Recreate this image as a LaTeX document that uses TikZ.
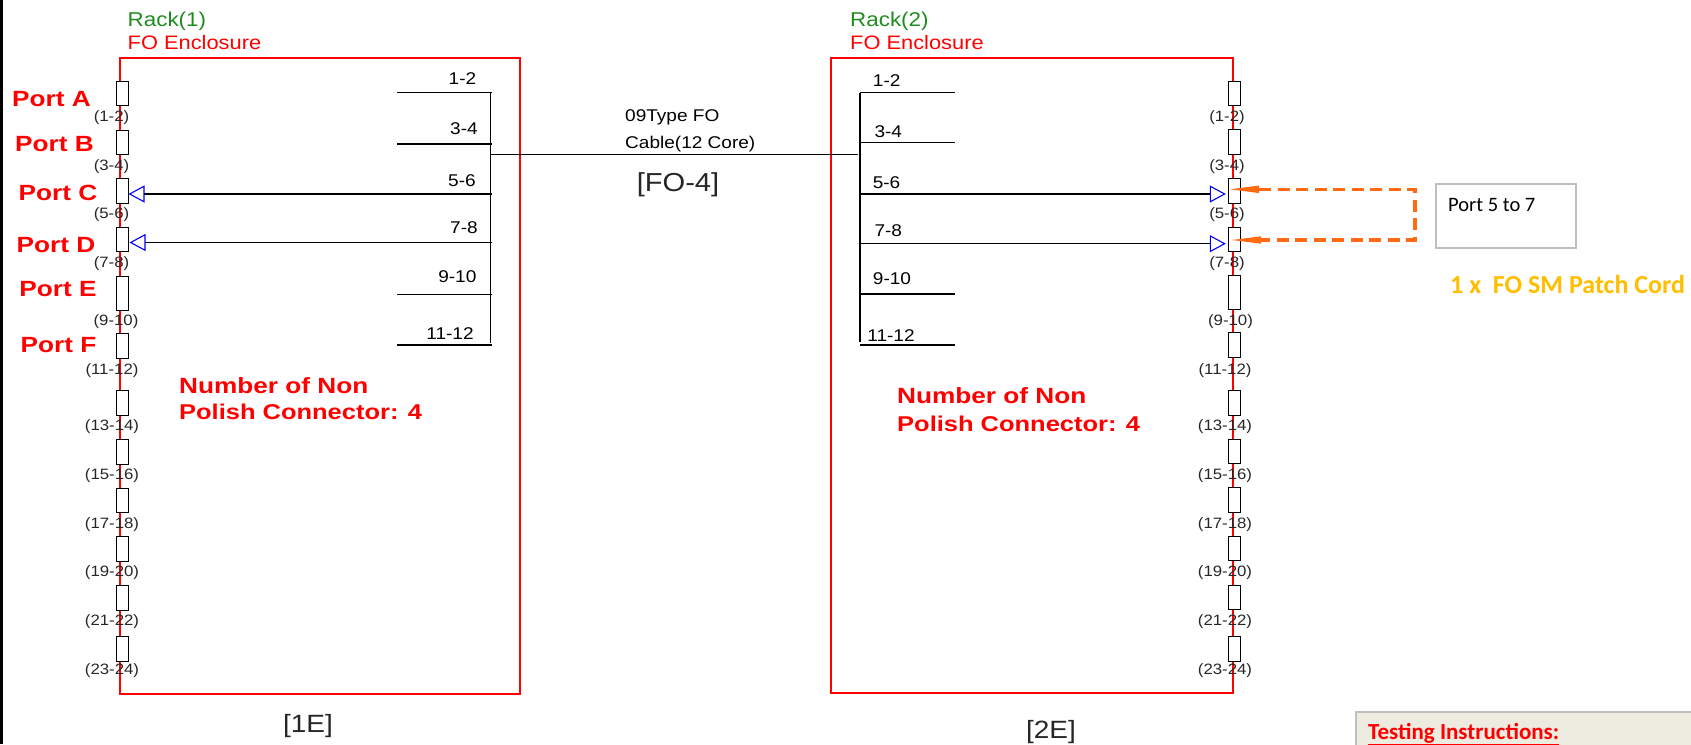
\documentclass[tikz,border=0pt]{standalone}
\usepackage{fontspec}
\usepackage{xcolor}
\usepackage{tikz}
\usetikzlibrary{arrows.meta}
\setmainfont{Liberation Sans}
\newfontfamily\gothic[FakeStretch=1.12]{Liberation Sans}
\newfontfamily\portfont[FakeStretch=1.19]{Liberation Sans}
\newfontfamily\calibri{Carlito}
\definecolor{fogreen}{HTML}{1E8C1E}
\definecolor{patchorange}{HTML}{FF6A13}
\definecolor{cordyellow}{HTML}{FFBE00}
\definecolor{notegrey}{HTML}{BFBFBF}
\definecolor{notefill}{HTML}{EEEBE0}
\newcommand{\fsize}[1]{\fontsize{#1}{#1}\selectfont}

\begin{document}
\begin{tikzpicture}[x=1pt,y=-1pt,
	enclosure/.style={draw=red,line width=1.05pt,minimum width=#1,minimum height=636pt,anchor=north west,inner sep=0pt,outer sep=0pt},
	portbox/.style={draw=black,line width=1pt,fill=white,minimum width=12pt,minimum height=#1,inner sep=0pt,outer sep=0pt},
	tiny lbl/.style={font=\gothic\fsize{15},text=black!85,inner sep=0pt},
	core lbl/.style={font=\gothic\fsize{17},text=black,inner sep=0pt},
	rack lbl/.style={font=\gothic\fsize{20},text=fogreen,inner sep=0pt,anchor=west},
	encl lbl/.style={font=\gothic\fsize{19.5},text=red,inner sep=0pt,anchor=west},
	port lbl/.style={font=\portfont\bfseries\fsize{22},text=red,inner sep=0pt},
	code lbl/.style={font=\gothic\fsize{25},text=black!85,inner sep=0pt},
	wire/.style={draw=black,line width=1.2pt},
	sigline/.style={draw=black,line width=1.1pt,-{Triangle[open,blue,length=16pt,width=17pt,line width=1.1pt]}},
	patch/.style={draw=patchorange,line width=3.1pt,dash pattern=on 12pt off 6.5pt,
		{Triangle[length=29pt,width=7.5pt,fill=patchorange,line width=0pt]}-{Triangle[length=29pt,width=7.5pt,fill=patchorange,line width=0pt]}}]

	\useasboundingbox (0,0) rectangle (1691,744);
	\draw[line width=2.6pt] (1.2,0) -- (1.2,744);

	\node at (120,58) [enclosure=400pt] (rack1) {};
	\node at (831,58) [enclosure=402pt,minimum height=635pt] (rack2) {};

	\node at (127.5,21) [rack lbl] (rack1name) {Rack(1)};
	\node at (127.5,43) [encl lbl] (rack1encl) {FO Enclosure};
	\node at (850,21) [rack lbl] (rack2name) {Rack(2)};
	\node at (850,43) [encl lbl] (rack2encl) {FO Enclosure};

	% patch panel, left rack and right rack
	\foreach \n/\y/\h in {1/93.7/24.5,2/142.5/24.5,3/191.2/24.5,4/239.7/24.5,5/293/34,6/345.5/25,
		7/403.2/24.5,8/452/24.5,9/500.5/24.5,10/549/24.5,11/598/24.5,12/649.3/25}{
		\node at (122.5,\y) [portbox=\h pt] (lbox\n) {};
		\node at (1234.8,\y-0.3) [portbox=\h pt] (rbox\n) {};
	}
	\foreach \n/\y/\txt/\lx/\rx in {1/118/(1-2)/111.5/1227,2/167/(3-4)/111.5/1227,3/215/(5-6)/111.5/1227,
		4/264/(7-8)/111.5/1227,5/321.5/(9-10)/116/1230.5,6/370.5/(11-12)/112/1225,7/427/(13-14)/112/1225,
		8/476/(15-16)/112/1225,9/525/(17-18)/112/1225,10/573/(19-20)/112/1225,11/622/(21-22)/112/1225,12/671/(23-24)/112/1225}{
		\node at (\lx,\y) [tiny lbl] (ltag\n) {\txt};
		\node at (\rx,\y) [tiny lbl] (rtag\n) {\txt};
	}

	\node at (51.5,99) [port lbl] (porta) {Port A};
	\node at (54.5,144) [port lbl] (portb) {Port B};
	\node at (58,192.5) [port lbl] (portc) {Port C};
	\node at (56,245) [port lbl] (portd) {Port D};
	\node at (58,289) [port lbl] (porte) {Port E};
	\node at (58.5,345) [port lbl] (portf) {Port F};

	% core fan-out, left
	\foreach \n/\y in {1/92.7,2/144,3/194,4/242.5,5/294.7,6/345}{
		\coordinate (la\n) at (397,\y);
		\coordinate (lb\n) at (492,\y);
		\draw[wire] (la\n) -- (lb\n);
	}
	\foreach \y/\x/\txt in {79/462.5/1-2,129/464/3-4,180.7/462/5-6,227.7/464/7-8,276.7/457.3/9-10,334/450/11-12}{
		\node at (\x,\y) [core lbl] (lcore\txt) {\txt};
	}
	\coordinate (lbustop) at (490.5,92.7);
	\coordinate (lbusend) at (490.5,343);
	\draw[wire] (lbustop) -- (lbusend);

	% core fan-out, right
	\foreach \n/\y in {1/92.7,2/142.7,3/194,4/243.7,5/294,6/345}{
		\coordinate (ra\n) at (860,\y);
		\coordinate (rb\n) at (955,\y);
		\draw[wire] (ra\n) -- (rb\n);
	}
	\foreach \y/\x/\txt in {81/886.7/1-2,131.7/888.3/3-4,182.7/886.5/5-6,231/888.3/7-8,278.7/892/9-10,336/891/11-12}{
		\node at (\x,\y) [core lbl] (rcore\txt) {\txt};
	}
	\coordinate (rbustop) at (860,92.7);
	\coordinate (rbusend) at (860,342);
	\draw[wire] (rbustop) -- (rbusend);

	\coordinate (lcable) at (490.5,154.7);
	\coordinate (rcable) at (857.6,154.7);
	\draw[wire] (lcable) -- (rcable);
	\node at (625,117) [core lbl,anchor=west] (cablea) {09Type FO};
	\node at (625,144) [core lbl,anchor=west] (cableb) {Cable(12 Core)};
	\node at (678,185) [code lbl,font=\gothic\fsize{26}] (fo4) {[FO-4]};

	% used ports
	\draw[sigline] (la3) -- (la3 -| lbox3.east);
	\draw[sigline] (la4) -- ([xshift=1pt]la4 -| lbox4.east);
	\draw[sigline] (rb3) -- ([xshift=-3pt]rb3 -| rbox3.west);
	\draw[sigline] (rb4) -- ([xshift=-3pt]rb4 -| rbox4.west);

	\node at (179,385.7) [port lbl,anchor=west] (lnona) {Number of Non};
	\node at (179,412) [port lbl,anchor=west,font=\portfont\bfseries\fsize{21.4}] (lnonb) {Polish Connector: 4};
	\node at (897,396) [port lbl,anchor=west] (rnona) {Number of Non};
	\node at (897,424) [port lbl,anchor=west,font=\portfont\bfseries\fsize{21.4}] (rnonb) {Polish Connector: 4};

	\node at (308,726) [code lbl] (tag1e) {[1E]};
	\node at (1051,732) [code lbl] (tag2e) {[2E]};

	% patch cord
	\coordinate (patchc) at (1230,189.3);
	\coordinate (patchd) at (1232,240);
	\coordinate (patchce) at (1415,189.3);
	\coordinate (patchde) at (1415,240);
	\draw[patch] (patchc) -- (patchce) -- (patchde) -- (patchd);

	\node at (1435,183) [draw=notegrey,line width=1.5pt,fill=white,anchor=north west,minimum width=140pt,minimum height=64pt,inner sep=0pt] (portnote) {};
	\node at (1448,205) [anchor=west,inner sep=0pt,font=\calibri\fsize{20.5},text=black] (portnotetxt) {Port 5 to 7};
	\node at (1450,284) [anchor=west,inner sep=0pt,font=\calibri\bfseries\fsize{26},text=cordyellow] (cordtxt) {1 x\ \ FO SM Patch Cord};

	\node at (1355,711) [draw=notegrey,line width=1.5pt,fill=notefill,anchor=north west,minimum width=345pt,minimum height=45pt,inner sep=0pt] (testing) {};
	\node at (1368,734) [anchor=west,inner sep=0pt,font=\calibri\bfseries\fsize{23},text=red] (testingtxt) {\underline{Testing Instructions:}};
\end{tikzpicture}
\end{document}
